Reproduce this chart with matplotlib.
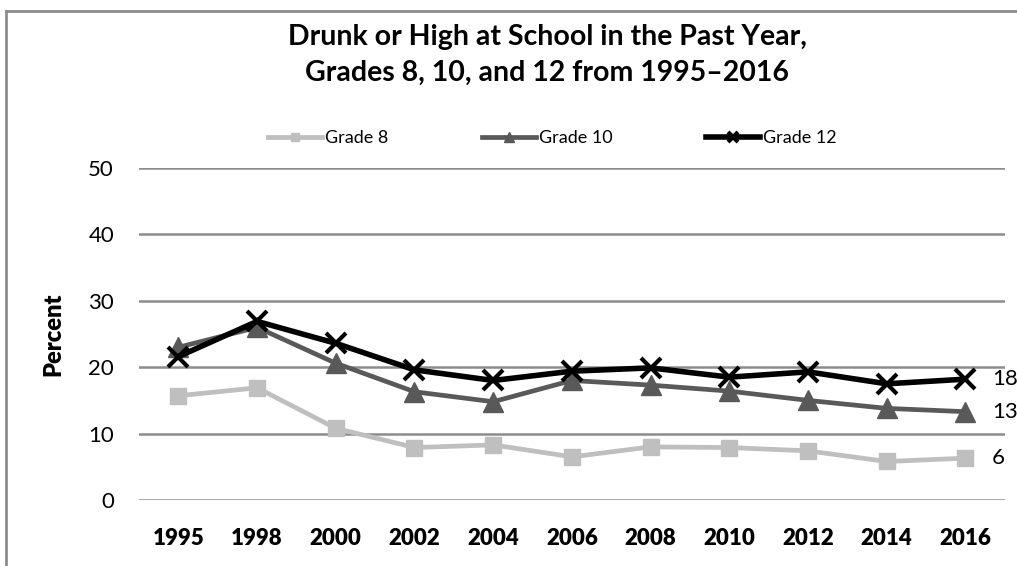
import matplotlib.pyplot as plt
from matplotlib.lines import Line2D

years = ['1995', '1998', '2000', '2002', '2004', '2006', '2008', '2010', '2012', '2014', '2016']
grade8 = [15.7, 16.9, 10.8, 7.9, 8.3, 6.5, 8.0, 7.9, 7.4, 5.8, 6.3]
grade10 = [23.0, 26.0, 20.6, 16.3, 14.8, 18.0, 17.3, 16.4, 15.0, 13.8, 13.3]
grade12 = [21.6, 26.9, 23.6, 19.6, 18.0, 19.4, 19.9, 18.5, 19.3, 17.5, 18.2]
end_labels = ['6', '13', '18']


def main():
    plt.rcParams['font.family'] = ['Lato', 'DejaVu Sans']

    fig = plt.figure(figsize=(10.17, 5.66), dpi=100)
    ax = fig.add_axes([0.1367, 0.1166, 0.8513, 0.5866])

    x = list(range(len(years)))

    l8, = ax.plot(x, grade8, color='#bfbfbf', lw=3.4, marker='s', ms=12,
                  label='Grade 8', zorder=3)
    l10, = ax.plot(x, grade10, color='#595959', lw=3.4, marker='^', ms=14,
                   label='Grade 10', zorder=4)
    l12, = ax.plot(x, grade12, color='black', lw=4, marker='x', ms=15,
                   mew=3, label='Grade 12', zorder=5)

    # end-of-line value labels
    for vals, lab in zip([grade8, grade10, grade12], end_labels):
        ax.annotate(lab, xy=(x[-1], vals[-1]), xytext=(19, 0),
                    textcoords='offset points', va='center', ha='left',
                    fontsize=16, annotation_clip=False)

    ax.set_xlim(-0.5, len(years) - 0.5)
    ax.set_ylim(0, 50)
    ax.set_yticks(range(0, 51, 10))
    ax.set_xticks(x)
    ax.set_xticklabels(years, fontweight='heavy', fontsize=16)
    ax.tick_params(axis='y', labelsize=16, length=0, pad=18)
    ax.tick_params(axis='x', length=0, pad=20)
    ax.yaxis.grid(True, color='#8c8c8c', lw=1.8)
    ax.set_axisbelow(True)
    for s in ax.spines.values():
        s.set_visible(False)

    ax.set_ylabel('Percent', fontweight='heavy', fontsize=17, labelpad=17)

    fig.text(0.538, 0.935, 'Drunk or High at School in the Past Year,',
             ha='center', va='center', fontsize=20.5, fontweight='bold')
    fig.text(0.538, 0.871, 'Grades 8, 10, and 12 from 1995\u20132016',
             ha='center', va='center', fontsize=20.5, fontweight='bold')

    fig.legend(handles=[l8, l10, l12], loc='center', bbox_to_anchor=(0.543, 0.756),
               ncol=3, frameon=False, fontsize=13, handlelength=3.0,
               handletextpad=0.15, columnspacing=5.2, markerscale=0.5)

    # outer frame (left and top edges only)
    fig.add_artist(Line2D([6 / 1017, 6 / 1017], [0, 1 - 11 / 566],
                          color='#8c8c8c', lw=2))
    fig.add_artist(Line2D([6 / 1017, 1], [1 - 11 / 566, 1 - 11 / 566],
                          color='#8c8c8c', lw=2))

    fig.savefig('out.png', dpi=100)


if __name__ == "__main__":
    main()
